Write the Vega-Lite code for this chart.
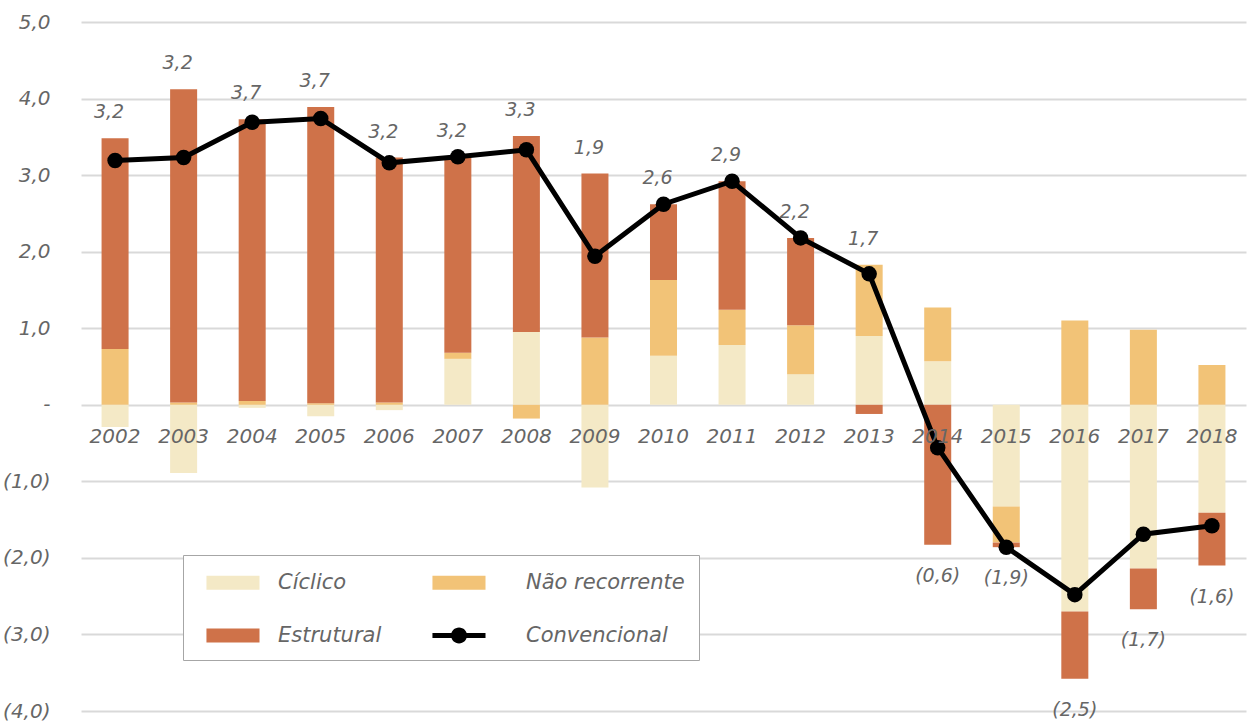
{
  "$schema": "https://vega.github.io/schema/vega-lite/v6.json",
  "width": 1165,
  "height": 689,
  "autosize": {"type": "none"},
  "padding": {"left": 81, "top": 22, "right": 2, "bottom": 10},
  "config": {
    "locale": {"number": {"decimal": ",", "thousands": ".", "grouping": [3], "currency": ["", " €"]}},
    "view": {"stroke": null},
    "font": "DejaVu Sans",
    "text": {"font": "DejaVu Sans", "fontStyle": "italic", "fontWeight": 200, "fontSize": 19, "fill": "#666666"}
  },
  "data": {
    "values": [
      {"ano": "2002", "Cíclico": -0.29, "Não recorrente": 0.73, "Estrutural": 2.75, "convencional": 3.19},
      {"ano": "2003", "Cíclico": -0.89, "Não recorrente": 0.03, "Estrutural": 4.09, "convencional": 3.23},
      {"ano": "2004", "Cíclico": -0.04, "Não recorrente": 0.05, "Estrutural": 3.68, "convencional": 3.69},
      {"ano": "2005", "Cíclico": -0.15, "Não recorrente": 0.02, "Estrutural": 3.87, "convencional": 3.74},
      {"ano": "2006", "Cíclico": -0.07, "Não recorrente": 0.03, "Estrutural": 3.20, "convencional": 3.16},
      {"ano": "2007", "Cíclico": 0.60, "Não recorrente": 0.08, "Estrutural": 2.56, "convencional": 3.24},
      {"ano": "2008", "Cíclico": 0.95, "Não recorrente": -0.18, "Estrutural": 2.56, "convencional": 3.33},
      {"ano": "2009", "Cíclico": -1.08, "Não recorrente": 0.88, "Estrutural": 2.14, "convencional": 1.94},
      {"ano": "2010", "Cíclico": 0.64, "Não recorrente": 0.99, "Estrutural": 0.99, "convencional": 2.62},
      {"ano": "2011", "Cíclico": 0.78, "Não recorrente": 0.46, "Estrutural": 1.68, "convencional": 2.92},
      {"ano": "2012", "Cíclico": 0.40, "Não recorrente": 0.64, "Estrutural": 1.14, "convencional": 2.18},
      {"ano": "2013", "Cíclico": 0.90, "Não recorrente": 0.93, "Estrutural": -0.12, "convencional": 1.71},
      {"ano": "2014", "Cíclico": 0.57, "Não recorrente": 0.70, "Estrutural": -1.83, "convencional": -0.56},
      {"ano": "2015", "Cíclico": -1.33, "Não recorrente": -0.47, "Estrutural": -0.06, "convencional": -1.86},
      {"ano": "2016", "Cíclico": -2.70, "Não recorrente": 1.10, "Estrutural": -0.88, "convencional": -2.48},
      {"ano": "2017", "Cíclico": -2.14, "Não recorrente": 0.98, "Estrutural": -0.53, "convencional": -1.69},
      {"ano": "2018", "Cíclico": -1.41, "Não recorrente": 0.52, "Estrutural": -0.69, "convencional": -1.58}
    ]
  },
  "encoding": {
    "x": {
      "field": "ano",
      "type": "ordinal",
      "scale": {"paddingInner": 0.606, "paddingOuter": 0.3},
      "axis": {
        "title": null,
        "orient": "bottom",
        "offset": -306,
        "labelPadding": 21,
        "ticks": false,
        "domain": false,
        "grid": false,
        "labelAngle": 0,
        "labelFont": "DejaVu Sans",
        "labelFontStyle": "italic",
        "labelFontWeight": 200,
        "labelFontSize": 20,
        "labelColor": "#666666",
        "zindex": 1
      }
    }
  },
  "layer": [
    {
      "transform": [
        {"fold": ["Cíclico", "Não recorrente", "Estrutural"], "as": ["componente", "valor"]},
        {"window": [{"op": "row_number", "as": "ordem"}], "groupby": ["ano"]}
      ],
      "mark": {"type": "bar"},
      "encoding": {
        "y": {
          "field": "valor",
          "type": "quantitative",
          "stack": "zero",
          "scale": {"domain": [-4, 5], "nice": false, "zero": false},
          "axis": {
            "title": null,
            "values": [-4, -3, -2, -1, 0, 1, 2, 3, 4, 5],
            "labelExpr": "datum.value == 0 ? '-\u00a0' : format(datum.value, '(.1f')",
            "ticks": false,
            "domain": false,
            "labelPadding": 31,
            "labelFont": "DejaVu Sans",
            "labelFontStyle": "italic",
            "labelFontWeight": 200,
            "labelFontSize": 20,
            "labelColor": "#666666",
            "gridColor": "#d9d9d9",
            "gridWidth": 2
          }
        },
        "order": {"field": "ordem", "type": "quantitative"},
        "color": {
          "field": "componente",
          "type": "nominal",
          "scale": {
            "domain": ["Cíclico", "Estrutural", "Não recorrente", "Convencional"],
            "range": ["#f4e9c6", "#cf7249", "#f2c377", "#000000"]
          },
          "legend": {
            "title": null,
            "orient": "none",
            "legendX": 102,
            "legendY": 533,
            "columns": 2,
            "strokeColor": "#a6a6a6",
            "fillColor": "#ffffff",
            "padding": 14,
            "symbolType": "M-0.3,-0.52H3.63V0.52H-0.3Z",
            "symbolSize": 729,
            "symbolStrokeWidth": 0,
            "symbolOpacity": 1,
            "labelOffset": 54,
            "labelFont": "DejaVu Sans",
            "labelFontStyle": "italic",
            "labelFontWeight": 200,
            "labelFontSize": 21,
            "labelColor": "#666666",
            "labelExpr": "datum.value === 'Não recorrente' ? datum.label + '\u00a0\u00a0' : datum.label",
            "rowPadding": 29,
            "columnPadding": 41,
            "encode": {
              "symbols": {
                "update": {
                  "shape": {"signal": "datum.value === 'Convencional' ? 'M-0.3,-0.185H3.63V0.185H-0.3Z M2.26,0A0.59,0.59,0,1,1,1.08,0A0.59,0.59,0,1,1,2.26,0Z' : 'M-0.3,-0.52H3.63V0.52H-0.3Z'"}
                }
              },
              "labels": {
                "update": {
                  "dx": {"signal": "datum.index >= 2 ? 22 : 0"}
                }
              }
            }
          }
        }
      }
    },
    {
      "mark": {
        "type": "line",
        "color": "#000000",
        "strokeWidth": 5,
        "point": {"filled": true, "size": 240, "color": "#000000"}
      },
      "encoding": {
        "y": {"field": "convencional", "type": "quantitative"}
      }
    },
    {
      "transform": [
        {"fold": ["Cíclico", "Não recorrente", "Estrutural"], "as": ["componente", "valor"]},
        {"filter": "datum.valor > 0"},
        {"aggregate": [{"op": "sum", "field": "valor", "as": "topo"}], "groupby": ["ano", "convencional"]},
        {"filter": "datum.convencional > 0"}
      ],
      "mark": {"type": "text", "baseline": "middle", "dy": -26, "dx": -6},
      "encoding": {
        "y": {"field": "topo", "type": "quantitative"},
        "text": {"field": "convencional", "type": "quantitative", "format": "(.1f"}
      }
    },
    {
      "transform": [
        {"fold": ["Cíclico", "Não recorrente", "Estrutural"], "as": ["componente", "valor"]},
        {"filter": "datum.valor < 0"},
        {"aggregate": [{"op": "sum", "field": "valor", "as": "fundo"}], "groupby": ["ano", "convencional"]},
        {"filter": "datum.convencional < 0"}
      ],
      "mark": {"type": "text", "baseline": "middle", "dy": 31},
      "encoding": {
        "y": {"field": "fundo", "type": "quantitative"},
        "text": {"field": "convencional", "type": "quantitative", "format": "(.1f"}
      }
    }
  ]
}
